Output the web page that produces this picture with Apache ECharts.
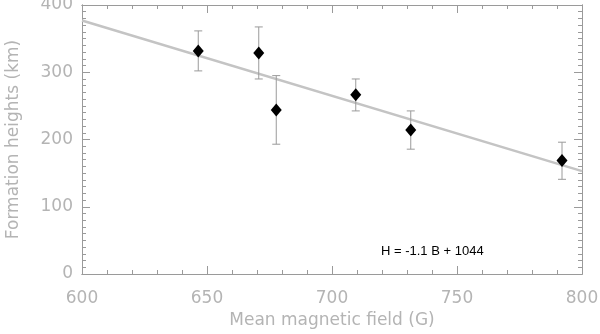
<!DOCTYPE html>
<html>
<head>
<meta charset="utf-8">
<script src="https://cdn.jsdelivr.net/npm/echarts@6/dist/echarts.min.js"></script>
<style>
  html, body { margin: 0; padding: 0; background: #fff; }
  #chart { width: 600px; height: 334px; }
</style>
</head>
<body>
<div id="chart"></div>
<script>
const fieldB = [646.5, 670.7, 677.7, 709.5, 731.5, 792];
const heightH = [331.5, 328.5, 244, 266.4, 214, 168.6];
const errLow = [302, 290, 193, 242.5, 185.6, 140.8];
const errHigh = [361.5, 367.4, 295, 290, 242.5, 196];

// linear fit H = -1.1 B + 1044 (ends as drawn)
const fitB = [600, 800];
const fitH = [377, 153];
const fitLabel = 'H = -1.1 B + 1044';

const xRange = [600, 800];
const yRange = [0, 400];

const gray = '#b4b4b4';
const frame = '#9a9a9a';
const labelFont = 'DejaVu Sans';

const chart = echarts.init(document.getElementById('chart'));

// one axis = frame side + ticks of one length; minor ticks come from a second axis
function axis(range, step, pos, tickLen, labels, extra) {
  return Object.assign({
    type: 'value',
    min: range[0], max: range[1], interval: step,
    position: pos,
    axisLine: { show: true, onZero: false, lineStyle: { color: frame, width: 1 } },
    axisTick: { show: true, inside: true, length: tickLen, lineStyle: { color: frame } },
    axisLabel: labels || { show: false },
    splitLine: { show: false }
  }, extra || {});
}

const nameStyle = { color: gray, fontSize: 17, fontFamily: labelFont };

const option = {
  animation: false,
  grid: { left: 82, right: 18, top: 5, bottom: 60, outerBoundsMode: 'none', containLabel: false },
  xAxis: [
    axis(xRange, 50, 'bottom', 8,
      { color: gray, fontSize: 17, fontFamily: labelFont, margin: 16 },
      { name: 'Mean magnetic field (G)', nameLocation: 'middle', nameGap: 38, nameTextStyle: nameStyle }),
    axis(xRange, 50, 'top', 8),
    axis(xRange, 10, 'bottom', 4),
    axis(xRange, 10, 'top', 4)
  ],
  yAxis: [
    axis(yRange, 100, 'left', 8,
      { color: gray, fontSize: 17, fontFamily: labelFont, margin: 9 },
      { name: 'Formation heights (km)', nameLocation: 'middle', nameGap: 60, nameRotate: 90, nameTextStyle: nameStyle }),
    axis(yRange, 100, 'right', 8),
    axis(yRange, 10, 'left', 4),
    axis(yRange, 10, 'right', 4)
  ],
  graphic: [{
    type: 'text', left: 381, top: 245, z: 10,
    style: { text: fitLabel, fill: '#000', font: '13px "Liberation Sans", Arial, sans-serif' }
  }],
  series: [
    {
      type: 'line',
      data: fitB.map((b, i) => [b, fitH[i]]),
      showSymbol: false,
      lineStyle: { color: '#c4c4c4', width: 2.5 },
      z: 1
    },
    {
      type: 'custom',
      data: fieldB.map((b, i) => [b, errLow[i], errHigh[i]]),
      renderItem: function (params, api) {
        const lo = api.coord([api.value(0), api.value(1)]);
        const hi = api.coord([api.value(0), api.value(2)]);
        const cap = 4;
        const style = { stroke: frame, lineWidth: 1 };
        return {
          type: 'group',
          children: [
            { type: 'line', shape: { x1: lo[0], y1: lo[1], x2: hi[0], y2: hi[1] }, style: style },
            { type: 'line', shape: { x1: lo[0] - cap, y1: lo[1], x2: lo[0] + cap, y2: lo[1] }, style: style },
            { type: 'line', shape: { x1: hi[0] - cap, y1: hi[1], x2: hi[0] + cap, y2: hi[1] }, style: style }
          ]
        };
      },
      z: 2
    },
    {
      type: 'scatter',
      data: fieldB.map((b, i) => [b, heightH[i]]),
      symbol: 'diamond',
      symbolSize: [11, 13],
      itemStyle: { color: '#000', opacity: 1 },
      z: 3
    }
  ]
};

chart.setOption(option);
</script>
</body>
</html>
